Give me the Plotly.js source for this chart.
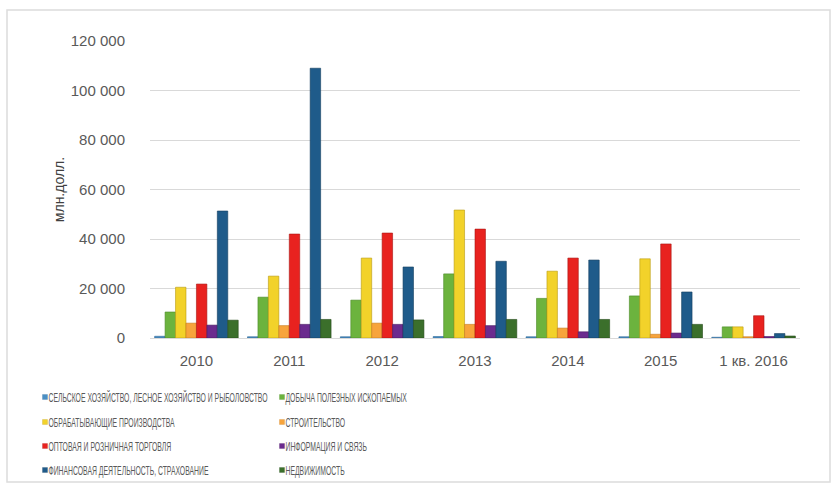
<!DOCTYPE html>
<html>
<head>
<meta charset="utf-8">
<script src="https://cdn.plot.ly/plotly-3.0.1.min.js"></script>
<style>
html,body{margin:0;padding:0;background:#fff}
#chart{width:834px;height:487px}
/* Compact legend look: small square swatch and condensed label text, as in the reference */
#chart g.traces g[class$="points"] path{transform:translate(16px,0) scale(0.42)}
#chart g.traces > text{transform:translate(-3.3px,0) scale(0.57,1)}
</style>
</head>
<body>
<div id="chart"></div>
<script>
const categories = ['2010', '2011', '2012', '2013', '2014', '2015', '1 кв. 2016'];
const seriesNames = [
  'СЕЛЬСКОЕ ХОЗЯЙСТВО, ЛЕСНОЕ ХОЗЯЙСТВО И РЫБОЛОВСТВО',
  'ДОБЫЧА ПОЛЕЗНЫХ ИСКОПАЕМЫХ',
  'ОБРАБАТЫВАЮЩИЕ ПРОИЗВОДСТВА',
  'СТРОИТЕЛЬСТВО',
  'ОПТОВАЯ И РОЗНИЧНАЯ ТОРГОВЛЯ',
  'ИНФОРМАЦИЯ И СВЯЗЬ',
  'ФИНАНСОВАЯ ДЕЯТЕЛЬНОСТЬ, СТРАХОВАНИЕ',
  'НЕДВИЖИМОСТЬ'
];
const agriculture   = [700, 500, 500, 600, 500, 500, 300];
const mining        = [10500, 16500, 15300, 25900, 16000, 17000, 4500];
const manufacturing = [20500, 25000, 32300, 51700, 27000, 32000, 4500];
const construction  = [6000, 5000, 6000, 5500, 4000, 1500, 500];
const trade         = [21800, 42000, 42400, 44000, 32300, 38000, 9000];
const infoComm      = [5200, 5500, 5500, 5000, 2500, 2000, 600];
const finance       = [51300, 109000, 28700, 31000, 31500, 18600, 1800];
const realEstate    = [7200, 7500, 7300, 7500, 7500, 5500, 800];
const yTickVals = [0, 20000, 40000, 60000, 80000, 100000, 120000];

const seriesValues = [agriculture, mining, manufacturing, construction, trade, infoComm, finance, realEstate];
const colors = ['#4a8fc4', '#6cb33e', '#f2d22a', '#f7a43c', '#e8221f', '#6b2b8e', '#1f5b8a', '#3b6f2b'];
const edge   = ['#2f6a98', '#4a8a26', '#b99a10', '#c47a1c', '#a81512', '#461a60', '#133d5e', '#254a1a'];
const legendIds = ['legend', 'legend', 'legend2', 'legend2', 'legend3', 'legend3', 'legend4', 'legend4'];

const traces = seriesValues.map((vals, i) => ({
  type: 'bar',
  name: seriesNames[i],
  x: categories,
  y: vals,
  marker: {color: colors[i], line: {color: edge[i], width: 0.6}},
  legend: legendIds[i],
  hoverinfo: 'x+y+name'
}));

const legendFont = {family: 'Arial, "Liberation Sans", sans-serif', size: 12, color: '#595959'};
function mkLegend(py) {
  return {
    orientation: 'h', xref: 'container', yref: 'container',
    x: 29 / 834, y: 1 - py / 487, xanchor: 'left', yanchor: 'middle',
    entrywidth: 192, entrywidthmode: 'pixels', itemwidth: 30,
    font: legendFont, bgcolor: 'rgba(0,0,0,0)', borderwidth: 0,
    itemclick: false, itemdoubleclick: false
  };
}

const L = 150, R = 34, T = 41, B = 149;
const pw = 834 - L - R, ph = 487 - T - B;
const px = v => (v - L) / pw, py = v => (487 - B - v) / ph;

const layout = {
  width: 834, height: 487,
  margin: {l: L, r: R, t: T, b: B},
  paper_bgcolor: '#ffffff', plot_bgcolor: '#ffffff',
  separators: ', ',
  barmode: 'group', bargap: 0.1, bargroupgap: 0,
  font: {family: 'Arial, "Liberation Sans", sans-serif', color: '#595959'},
  xaxis: {
    type: 'category', showgrid: false, zeroline: false, showline: false,
    ticks: '', tickfont: {size: 15, color: '#595959'}, ticklabelstandoff: 12, automargin: false
  },
  yaxis: {
    range: [0, 120000], tickvals: yTickVals, tickformat: ',d',
    showgrid: true, gridcolor: '#d9d9d9', gridwidth: 1, zeroline: true, zerolinecolor: '#d9d9d9',
    showline: false, ticks: '', ticklabelstandoff: 24,
    tickfont: {size: 15, color: '#595959'}, automargin: false,
    title: {text: 'млн.долл.', font: {size: 14, color: '#404040'}, standoff: 2}
  },
  legend: mkLegend(397),
  legend2: mkLegend(422),
  legend3: mkLegend(446),
  legend4: mkLegend(470),
  shapes: [{
    type: 'rect', xref: 'paper', yref: 'paper', layer: 'below',
    x0: px(7), x1: px(830), y0: py(482), y1: py(10),
    line: {color: '#dcdcdc', width: 1.5}, fillcolor: 'rgba(0,0,0,0)'
  }]
};

Plotly.newPlot('chart', traces, layout, {displayModeBar: false, staticPlot: true});
</script>
</body>
</html>
